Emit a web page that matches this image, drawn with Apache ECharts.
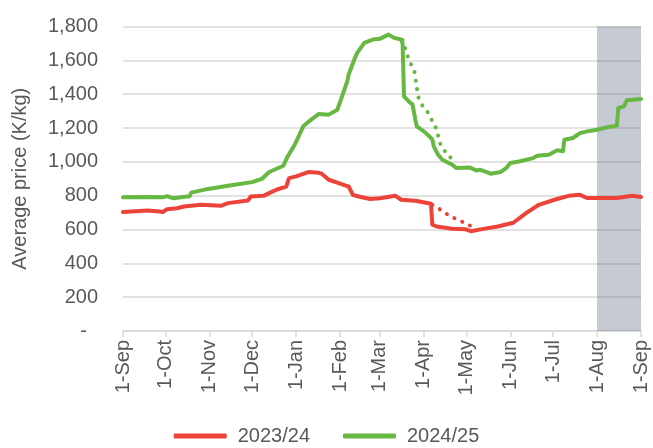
<!DOCTYPE html>
<html>
<head>
<meta charset="utf-8">
<script src="https://cdn.jsdelivr.net/npm/echarts@6/dist/echarts.min.js"></script>
<style>
  html, body { margin: 0; padding: 0; background: #fff; }
  #chart { width: 653px; height: 448px; }
</style>
</head>
<body>
<div id="chart"></div>
<script>
// 横轴：按 2024/25 季度的日历对齐（两季都画在同一条时间轴上）
const tickDates = ['2024-09-01', '2024-10-01', '2024-11-01', '2024-12-01', '2025-01-01', '2025-02-01',
  '2025-03-01', '2025-04-01', '2025-05-01', '2025-06-01', '2025-07-01', '2025-08-01', '2025-09-01'];
const tickLabels = ['1-Sep', '1-Oct', '1-Nov', '1-Dec', '1-Jan', '1-Feb', '1-Mar', '1-Apr', '1-May',
  '1-Jun', '1-Jul', '1-Aug', '1-Sep'];

const seriesNames = ['2023/24', '2024/25'];

// 2023/24 均价 (K/kg)
const price2324 = [
  ['2024-09-01', 703], ['2024-09-10', 708], ['2024-09-18', 712], ['2024-09-27', 706], ['2024-09-29', 703],
  ['2024-10-02', 720], ['2024-10-09', 726], ['2024-10-14', 736], ['2024-10-26', 746],
  ['2024-11-09', 740], ['2024-11-14', 756], ['2024-11-28', 771], ['2024-11-30', 795],
  ['2024-12-09', 799], ['2024-12-13', 815], ['2024-12-18', 835], ['2024-12-25', 854],
  ['2024-12-27', 904], ['2025-01-01', 914], ['2025-01-10', 940], ['2025-01-17', 935],
  ['2025-01-19', 930], ['2025-01-24', 894], ['2025-01-31', 874], ['2025-02-05', 859],
  ['2025-02-07', 854], ['2025-02-10', 805], ['2025-02-14', 795], ['2025-02-22', 780],
  ['2025-03-01', 785], ['2025-03-12', 799], ['2025-03-16', 776], ['2025-03-26', 770],
  ['2025-04-06', 752], ['2025-04-07', 628], ['2025-04-10', 618], ['2025-04-21', 604],
  ['2025-04-30', 602], ['2025-05-04', 590], ['2025-05-14', 605], ['2025-05-23', 618],
  ['2025-06-03', 640], ['2025-06-12', 697], ['2025-06-21', 746], ['2025-07-02', 776],
  ['2025-07-12', 799], ['2025-07-20', 805], ['2025-07-25', 786], ['2025-08-15', 786],
  ['2025-08-26', 799], ['2025-09-01', 792]
];
const dotted2324 = [
  ['2025-04-07', 745], ['2025-04-10', 733], ['2025-04-15', 703], ['2025-04-21', 673],
  ['2025-04-27', 650], ['2025-05-03', 625], ['2025-05-09', 606]
];

// 2024/25 均价 (K/kg)
const price2425 = [
  ['2024-09-01', 790], ['2024-09-18', 792], ['2024-09-29', 790], ['2024-10-02', 797],
  ['2024-10-06', 785], ['2024-10-18', 797], ['2024-10-19', 818], ['2024-10-31', 840],
  ['2024-11-15', 860], ['2024-12-01', 880], ['2024-12-08', 900], ['2024-12-13', 940],
  ['2024-12-23', 977], ['2024-12-26', 1032], ['2024-12-31', 1101], ['2025-01-06', 1210],
  ['2025-01-10', 1239], ['2025-01-17', 1283], ['2025-01-24', 1279], ['2025-01-30', 1308],
  ['2025-02-02', 1378], ['2025-02-06', 1476], ['2025-02-07', 1516], ['2025-02-11', 1605],
  ['2025-02-13', 1644], ['2025-02-18', 1703], ['2025-02-24', 1723], ['2025-03-01', 1727],
  ['2025-03-07', 1752], ['2025-03-11', 1733], ['2025-03-16', 1723], ['2025-03-17', 1700],
  ['2025-03-18', 1387], ['2025-03-22', 1352], ['2025-03-24', 1340], ['2025-03-26', 1250],
  ['2025-03-27', 1210], ['2025-04-01', 1180], ['2025-04-05', 1150], ['2025-04-07', 1131],
  ['2025-04-08', 1091], ['2025-04-11', 1042], ['2025-04-14', 1012], ['2025-04-21', 983],
  ['2025-04-24', 963], ['2025-05-03', 967], ['2025-05-08', 949], ['2025-05-11', 953],
  ['2025-05-18', 930], ['2025-05-25', 940], ['2025-05-29', 963], ['2025-06-01', 993],
  ['2025-06-07', 1002], ['2025-06-17', 1022], ['2025-06-20', 1036], ['2025-06-28', 1042],
  ['2025-07-04', 1068], ['2025-07-08', 1062], ['2025-07-09', 1131], ['2025-07-15', 1141],
  ['2025-07-20', 1170], ['2025-07-25', 1180], ['2025-08-01', 1190], ['2025-08-08', 1204],
  ['2025-08-15', 1214], ['2025-08-16', 1318], ['2025-08-20', 1328], ['2025-08-22', 1364],
  ['2025-09-01', 1372]
];
const dotted2425 = [
  ['2025-03-17', 1720], ['2025-03-20', 1640], ['2025-03-22', 1590], ['2025-03-25', 1545],
  ['2025-03-27', 1440], ['2025-03-28', 1385], ['2025-03-31', 1332], ['2025-04-04', 1289],
  ['2025-04-07', 1240], ['2025-04-10', 1190], ['2025-04-12', 1120], ['2025-04-14', 1080],
  ['2025-04-18', 1045], ['2025-04-22', 1000]
];

// 灰色阴影区间
const shadeRange = ['2025-08-01', '2025-09-01'];

const RED = '#EC4339';
const GREEN = '#66B842';
const TEXT = '#595959';

function toTs(s) {
  const p = s.split('-').map(Number);
  return Date.UTC(p[0], p[1] - 1, p[2]);
}
const tickTs = tickDates.map(toTs);
const conv = arr => arr.map(d => [toTs(d[0]), d[1]]);

var myChart = echarts.init(document.getElementById('chart'));
var option;

option = {
  animation: false,
  backgroundColor: '#fff',
  textStyle: { fontFamily: 'Liberation Sans, Arial, sans-serif' },
  grid: { left: 123, right: 12, top: 26.5, bottom: 117 },
  legend: {
    data: seriesNames.map(n => ({ name: n, icon: 'roundRect' })),
    bottom: -3,
    left: 'center',
    itemWidth: 53,
    itemHeight: 5,
    itemGap: 33,
    textStyle: { color: TEXT, fontSize: 20, padding: [0, 0, 0, 6] }
  },
  xAxis: {
    type: 'value',
    min: tickTs[0],
    max: tickTs[tickTs.length - 1],
    axisLine: { show: true, onZero: false, lineStyle: { color: '#D9D9D9', width: 1.5 } },
    axisTick: { show: true, length: 6, customValues: tickTs, lineStyle: { color: '#D9D9D9', width: 1.5 } },
    axisLabel: {
      customValues: tickTs,
      rotate: 90,
      margin: 9,
      color: TEXT,
      fontSize: 20,
      hideOverlap: false,
      showMinLabel: true,
      showMaxLabel: true,
      formatter: function (v) {
        const i = tickTs.indexOf(v);
        return i >= 0 ? tickLabels[i] : '';
      }
    },
    splitLine: { show: false }
  },
  yAxis: {
    type: 'value',
    min: 0,
    max: 1800,
    interval: 200,
    name: 'Average price (K/kg)',
    nameLocation: 'middle',
    nameGap: 93,
    nameTextStyle: { color: TEXT, fontSize: 20 },
    axisLine: { show: false },
    axisTick: { show: false },
    axisLabel: {
      color: TEXT,
      fontSize: 20,
      margin: 25,
      formatter: function (v) {
        return v === 0 ? '-  ' : v.toLocaleString('en-US');
      }
    },
    splitLine: { lineStyle: { color: '#D9D9D9', width: 1.5 } }
  },
  series: [
    {
      name: 'shade',
      type: 'line',
      data: [],
      z: 1,
      markArea: {
        silent: true,
        itemStyle: { color: 'rgba(65,78,105,0.3)' },
        data: [[{ xAxis: toTs(shadeRange[0]) }, { xAxis: toTs(shadeRange[1]) }]]
      }
    },
    {
      name: seriesNames[0],
      type: 'line',
      data: conv(price2324),
      showSymbol: false,
      color: RED,
      z: 3,
      lineStyle: { color: RED, width: 4, cap: 'round', join: 'round' }
    },
    {
      name: seriesNames[1],
      type: 'line',
      data: conv(price2425),
      showSymbol: false,
      color: GREEN,
      z: 3,
      lineStyle: { color: GREEN, width: 4, cap: 'round', join: 'round' }
    },
    {
      name: seriesNames[0] + ' dotted',
      type: 'line',
      data: conv(dotted2324),
      showSymbol: false,
      smooth: 0.3,
      z: 3,
      lineStyle: { color: RED, width: 4, type: [0.1, 8.5], cap: 'round' }
    },
    {
      name: seriesNames[1] + ' dotted',
      type: 'line',
      data: conv(dotted2425),
      showSymbol: false,
      smooth: 0.3,
      z: 3,
      lineStyle: { color: GREEN, width: 4, type: [0.1, 8.5], cap: 'round' }
    }
  ]
};

option && myChart.setOption(option);
</script>
</body>
</html>
